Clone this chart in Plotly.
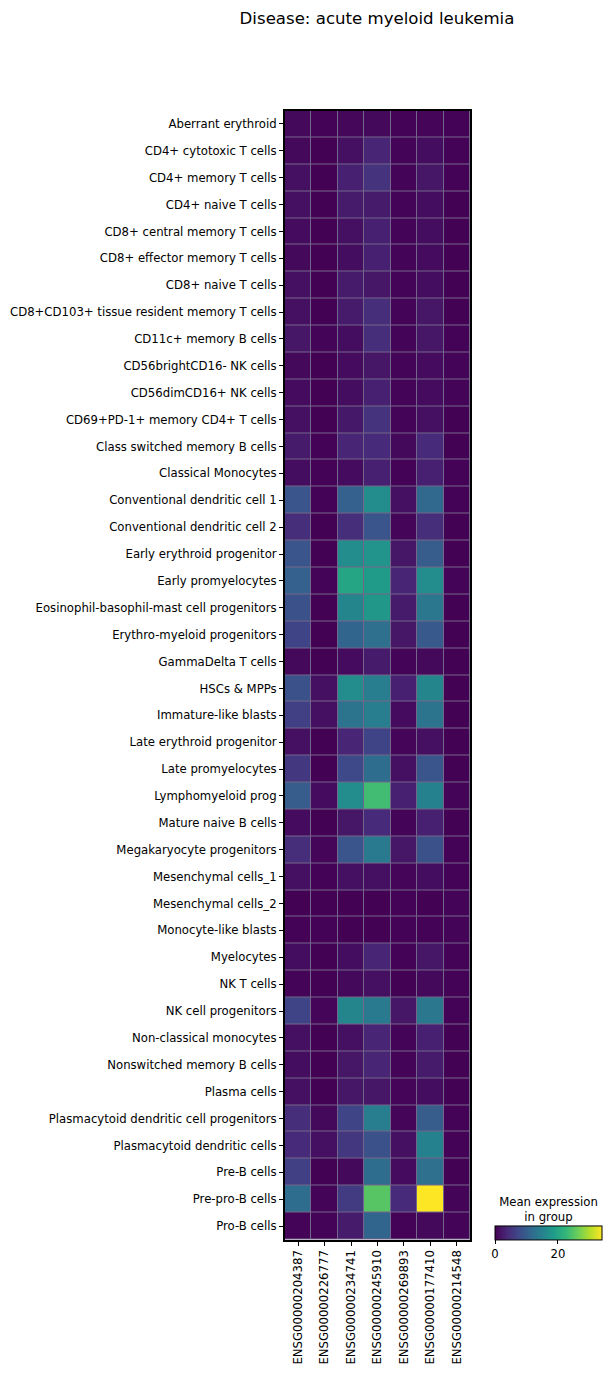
import plotly.graph_objects as go

W, H = 612, 1374

genes = ["ENSG00000204387", "ENSG00000226777", "ENSG00000234741", "ENSG00000245910",
         "ENSG00000269893", "ENSG00000177410", "ENSG00000214548"]

cell_types = [
    "Aberrant erythroid", "CD4+ cytotoxic T cells", "CD4+ memory T cells", "CD4+ naive T cells",
    "CD8+ central memory T cells", "CD8+ effector memory T cells", "CD8+ naive T cells",
    "CD8+CD103+ tissue resident memory T cells", "CD11c+ memory B cells", "CD56brightCD16- NK cells",
    "CD56dimCD16+ NK cells", "CD69+PD-1+ memory CD4+ T cells", "Class switched memory B cells",
    "Classical Monocytes", "Conventional dendritic cell 1", "Conventional dendritic cell 2",
    "Early erythroid progenitor", "Early promyelocytes", "Eosinophil-basophil-mast cell progenitors",
    "Erythro-myeloid progenitors", "GammaDelta T cells", "HSCs & MPPs", "Immature-like blasts",
    "Late erythroid progenitor", "Late promyelocytes", "Lymphomyeloid prog", "Mature naive B cells",
    "Megakaryocyte progenitors", "Mesenchymal cells_1", "Mesenchymal cells_2", "Monocyte-like blasts",
    "Myelocytes", "NK T cells", "NK cell progenitors", "Non-classical monocytes",
    "Nonswitched memory B cells", "Plasma cells", "Plasmacytoid dendritic cell progenitors",
    "Plasmacytoid dendritic cells", "Pre-B cells", "Pre-pro-B cells", "Pro-B cells",
]

mean_expression = [
    [0.8, 0.2, 0.6, 0.8, 0.2, 0.5, 0.2],
    [0.8, 0.1, 1.5, 3.5, 0.3, 1.2, 0.2],
    [1.5, 0.1, 3.0, 5.0, 0.3, 2.0, 0.2],
    [1.5, 0.1, 2.5, 2.5, 0.3, 1.2, 0.1],
    [1.0, 0.1, 1.5, 3.0, 0.3, 1.2, 0.1],
    [0.8, 0.1, 1.2, 3.0, 0.3, 1.0, 0.1],
    [1.5, 0.1, 2.5, 2.0, 0.3, 1.2, 0.1],
    [1.5, 0.1, 2.5, 4.5, 0.3, 2.0, 0.1],
    [2.0, 0.3, 1.2, 4.5, 0.3, 2.0, 0.2],
    [0.8, 0.1, 1.0, 2.0, 0.3, 1.0, 0.3],
    [1.0, 0.1, 1.2, 3.0, 0.3, 1.0, 0.3],
    [1.5, 0.1, 2.2, 5.0, 0.3, 1.5, 0.1],
    [2.5, 0.2, 3.5, 4.0, 0.8, 4.0, 0.1],
    [1.2, 0.2, 1.0, 3.0, 0.2, 3.0, 0.2],
    [9.0, 0.2, 10.5, 16.5, 1.5, 11.5, 0.2],
    [4.5, 0.1, 4.5, 9.0, 0.5, 4.5, 0.1],
    [9.0, 0.1, 16.5, 17.5, 2.0, 10.0, 0.1],
    [10.5, 0.3, 20.0, 18.5, 3.5, 16.5, 0.3],
    [8.5, 0.1, 15.5, 18.0, 2.5, 13.5, 0.1],
    [7.0, 0.1, 11.0, 12.5, 2.0, 9.5, 0.1],
    [0.8, 0.1, 1.0, 2.5, 0.3, 0.8, 0.1],
    [8.5, 1.5, 16.5, 14.5, 3.0, 15.5, 0.1],
    [6.5, 1.5, 13.0, 14.5, 1.0, 13.0, 0.1],
    [1.5, 0.1, 3.5, 7.0, 0.5, 1.5, 0.1],
    [5.5, 0.1, 7.5, 12.0, 1.5, 9.0, 0.1],
    [10.0, 1.0, 16.5, 23.5, 3.0, 15.0, 0.3],
    [1.0, 0.1, 2.0, 4.0, 0.3, 3.0, 0.1],
    [4.5, 0.5, 9.0, 14.0, 2.0, 8.5, 0.2],
    [1.5, 0.2, 1.5, 1.5, 0.5, 1.2, 0.2],
    [0.1, 0.1, 0.1, 0.1, 0.2, 0.1, 0.3],
    [0.2, 0.2, 0.1, 0.1, 0.2, 0.2, 0.3],
    [1.2, 0.1, 1.2, 3.5, 0.2, 2.0, 0.2],
    [0.3, 0.1, 0.8, 1.5, 0.1, 0.8, 0.2],
    [7.0, 0.5, 15.5, 14.0, 2.0, 13.5, 0.2],
    [1.5, 0.1, 1.5, 3.5, 0.3, 3.0, 0.1],
    [1.2, 0.1, 2.0, 3.5, 0.3, 2.5, 0.1],
    [1.5, 0.1, 2.0, 2.0, 0.5, 1.2, 0.1],
    [4.5, 0.8, 7.0, 14.5, 0.5, 10.0, 0.2],
    [4.0, 1.5, 5.5, 8.5, 1.5, 15.0, 0.2],
    [6.5, 0.1, 0.8, 12.0, 1.0, 12.5, 0.1],
    [12.0, 0.3, 6.0, 25.0, 4.0, 34.0, 0.3],
    [0.3, 0.3, 2.5, 11.0, 0.2, 0.8, 0.3],
]

colorbar_ticks = [0, 20]
title = "Disease: acute myeloid leukemia"

font = "DejaVu Sans"
fs = 11.7

x0, x1 = 285 / W, 470 / W
y0, y1 = 1 - 1239.5 / H, 1 - 110.5 / H

fig = go.Figure(go.Heatmap(
    z=mean_expression, x=genes, y=cell_types,
    colorscale="Viridis", zmin=0, zmax=34,
    xgap=1, ygap=1,
    colorbar=dict(
        orientation="h",
        x=548.5 / W, xanchor="center",
        y=1 - 1262 / H, yanchor="bottom",
        len=107 / W, lenmode="fraction",
        thickness=14,
        outlinecolor="black", outlinewidth=1,
        tickvals=colorbar_ticks, ticks="outside", ticklen=4, tickcolor="black",
        tickfont=dict(family=font, size=fs, color="black"),
        title=dict(text="Mean expression<br>in group", side="top",
                   font=dict(family=font, size=fs, color="black")),
        xpad=0, ypad=0,
    ),
))

fig.update_layout(
    width=W, height=H,
    margin=dict(l=0, r=0, t=0, b=0),
    paper_bgcolor="white",
    plot_bgcolor="#74668a",
    title=dict(text=title, x=377 / W, xanchor="center", y=1 - 18 / H, yanchor="middle",
               font=dict(family=font, size=16.6, color="black")),
    font=dict(family=font, size=fs, color="black"),
)
fig.update_xaxes(domain=[x0, x1], tickangle=-90, ticks="outside", ticklen=4, tickcolor="black",
                 showline=True, linecolor="black", linewidth=2, mirror=True, showgrid=False,
                 zeroline=False,
                 tickfont=dict(family=font, size=fs, color="black"), automargin=False)
fig.update_yaxes(domain=[y0, y1], autorange="reversed", ticks="outside", ticklen=4, tickcolor="black",
                 showline=True, linecolor="black", linewidth=2, mirror=True, showgrid=False,
                 zeroline=False,
                 tickfont=dict(family=font, size=fs, color="black"), automargin=False)

fig.write_html("out.html")
